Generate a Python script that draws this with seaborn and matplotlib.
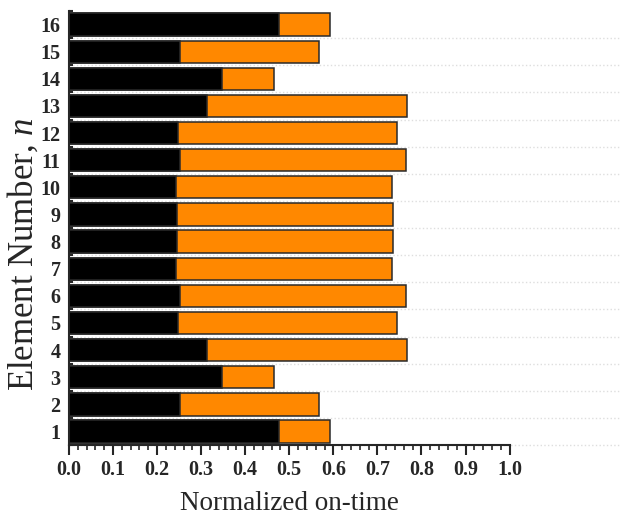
import numpy as np
import pandas as pd
import seaborn as sns
import matplotlib.pyplot as plt
from matplotlib.ticker import MultipleLocator, FixedLocator

elements = [str(i) for i in range(1, 17)]
black_part = [0.476, 0.253, 0.348, 0.313, 0.247, 0.252, 0.242, 0.245,
              0.245, 0.242, 0.252, 0.247, 0.313, 0.348, 0.253, 0.476]
total_on = [0.593, 0.568, 0.465, 0.768, 0.744, 0.765, 0.733, 0.735,
            0.735, 0.733, 0.765, 0.744, 0.768, 0.465, 0.568, 0.593]

df = pd.DataFrame({'element': elements, 'black': black_part, 'total': total_on})
order = elements[::-1]

sns.set_style('ticks')
plt.rcParams['font.family'] = ['Liberation Serif', 'DejaVu Serif']
plt.rcParams['mathtext.fontset'] = 'custom'
plt.rcParams['mathtext.it'] = 'Liberation Serif:italic'
plt.rcParams['mathtext.rm'] = 'Liberation Serif'

fig, ax = plt.subplots(figsize=(6.33, 5.23), dpi=100)
fig.subplots_adjust(left=0.109, right=0.805, top=0.979, bottom=0.149)

# faint dotted lines between the bars, running past the axis end
for yb in np.arange(-0.5, 16, 1.0)[1:]:
    ax.axhline(yb, xmin=0, xmax=1.25, color='#dedede', linestyle=':',
               linewidth=1.0, clip_on=False, zorder=0)

sns.barplot(data=df, y='element', x='total', order=order, orient='h',
            color='#FF8800', saturation=1, width=0.82,
            edgecolor='#2a2a2a', linewidth=1.1, ax=ax)
sns.barplot(data=df, y='element', x='black', order=order, orient='h',
            color='black', saturation=1, width=0.82,
            edgecolor='#2a2a2a', linewidth=1.1, ax=ax)

ax.set_xlim(0, 1.0)
ax.set_ylim(15.5, -0.5)
ax.xaxis.set_major_locator(MultipleLocator(0.1))
ax.xaxis.set_minor_locator(MultipleLocator(0.02))
ax.xaxis.set_major_formatter(plt.FormatStrFormatter('%.1f'))
ax.yaxis.set_minor_locator(FixedLocator(np.arange(-0.5, 16, 1.0)))

ax.tick_params(axis='x', which='major', direction='out', length=7, width=1.5,
               labelsize=14.5)
ax.tick_params(axis='x', which='minor', direction='out', length=3.5, width=1.2)
ax.tick_params(axis='y', which='major', length=0, labelsize=14.5, pad=6)
ax.tick_params(axis='y', which='minor', direction='in', length=3, width=1.5)
for lab in ax.get_xticklabels() + ax.get_yticklabels():
    lab.set_fontweight('bold')

sns.despine(ax=ax)
for s in ['left', 'bottom']:
    ax.spines[s].set_linewidth(1.5)

ax.set_xlabel('Normalized on-time', fontsize=19.5, labelpad=8)
ax.set_ylabel('Element Number, $n$', fontsize=25)
ax.yaxis.set_label_coords(-0.064, 0.44)

fig.savefig('out.png', dpi=100)
